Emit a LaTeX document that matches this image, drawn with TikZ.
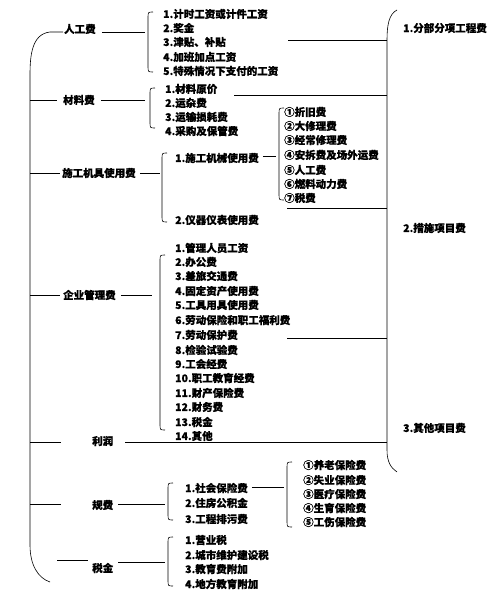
\documentclass[tikz,border=0pt]{standalone}
\usepackage{fontspec}
\setmainfont{Noto Sans CJK SC}[FakeBold=0.6]
\begin{document}
\begin{tikzpicture}[x=1pt,y=-1pt,
  lbl/.style={anchor=west,inner sep=0pt,font=\fontsize{10.5}{12}\selectfont\bfseries},
  ln/.style={line width=0.6pt,black},
  br/.style={line width=0.6pt,black}]
\useasboundingbox[fill=white] (0,0) rectangle (500,596);
% main labels
\node[lbl] (rgf) at (64,29) {人工费};
\node[lbl] (clf) at (63,100) {材料费};
\node[lbl] (sgjj) at (62,173) {施工机具使用费};
\node[lbl] (qygl) at (63,295) {企业管理费};
\node[lbl] (lr) at (92,441) {利润};
\node[lbl] (gf) at (92,505) {规费};
\node[lbl] (sj) at (92,568) {税金};
% right labels
\node[lbl] (r1) at (403,28) {1.分部分项工程费};
\node[lbl] (r2) at (403,228) {2.措施项目费};
\node[lbl] (r3) at (403,428) {3.其他项目费};
% 人工费 items
\node[lbl] (a1) at (163,14) {1.计时工资或计件工资};
\node[lbl] (a2) at (163,28) {2.奖金};
\node[lbl] (a3) at (163,42) {3.津贴、补贴};
\node[lbl] (a4) at (163,57) {4.加班加点工资};
\node[lbl] (a5) at (163,71) {5.特殊情况下支付的工资};
% 材料费 items
\node[lbl] (b1) at (165,89) {1.材料原价};
\node[lbl] (b2) at (165,103) {2.运杂费};
\node[lbl] (b3) at (165,117) {3.运输损耗费};
\node[lbl] (b4) at (165,131) {4.采购及保管费};
% 施工机具 items
\node[lbl] (c1) at (175,158) {1.施工机械使用费};
\node[lbl] (c2) at (175,220) {2.仪器仪表使用费};
\node[lbl] (d1) at (284,112) {①折旧费};
\node[lbl] (d2) at (284,126) {②大修理费};
\node[lbl] (d3) at (284,140) {③经常修理费};
\node[lbl] (d4) at (284,155) {④安拆费及场外运费};
\node[lbl] (d5) at (284,170) {⑤人工费};
\node[lbl] (d6) at (284,184) {⑥燃料动力费};
\node[lbl] (d7) at (284,198) {⑦税费};
% 企业管理费 items
\node[lbl] (e1) at (175,248) {1.管理人员工资};
\node[lbl] (e2) at (175,262) {2.办公费};
\node[lbl] (e3) at (175,276) {3.差旅交通费};
\node[lbl] (e4) at (175,291) {4.固定资产使用费};
\node[lbl] (e5) at (175,305) {5.工具用具使用费};
\node[lbl] (e6) at (175,320) {6.劳动保险和职工福利费};
\node[lbl] (e7) at (175,335) {7.劳动保护费};
\node[lbl] (e8) at (175,350) {8.检验试验费};
\node[lbl] (e9) at (175,364) {9.工会经费};
\node[lbl] (e10) at (175,378) {10.职工教育经费};
\node[lbl] (e11) at (175,393) {11.财产保险费};
\node[lbl] (e12) at (175,407) {12.财务费};
\node[lbl] (e13) at (175,422) {13.税金};
\node[lbl] (e14) at (175,436) {14.其他};
% 规费 items
\node[lbl] (f1) at (185,488) {1.社会保险费};
\node[lbl] (f2) at (185,503) {2.住房公积金};
\node[lbl] (f3) at (185,519) {3.工程排污费};
\node[lbl] (g1) at (303,465) {①养老保险费};
\node[lbl] (g2) at (303,480) {②失业保险费};
\node[lbl] (g3) at (303,494) {③医疗保险费};
\node[lbl] (g4) at (303,508) {④生育保险费};
\node[lbl] (g5) at (303,522) {⑤工伤保险费};
% 税金 items
\node[lbl] (h1) at (185,540) {1.营业税};
\node[lbl] (h2) at (185,555) {2.城市维护建设税};
\node[lbl] (h3) at (185,569) {3.教育费附加};
\node[lbl] (h4) at (185,584) {4.地方教育附加};

% big left bracket
\coordinate (LT) at (50,32);
\coordinate (LB) at (50,582);
\draw[br] (63,32) -- (LT) .. controls (32,34) and (30,55) .. (30,75) -- (30,545) .. controls (30,565) and (38,578) .. (LB);
% right bracket
\draw[br] (397,10) .. controls (389,14) and (387,25) .. (387,40) -- (387,450) .. controls (387,462) and (391,468) .. (397,472);

% sub brackets
\newcommand{\brak}[3]{\draw[br] (#1+5,#2) .. controls (#1,#2) .. (#1,#2+6) -- (#1,#3-6) .. controls (#1,#3) .. (#1+5,#3);}
\brak{148}{12}{72}
\brak{150}{88}{128}
\brak{162}{153}{222}
\brak{279}{108}{200}
\brak{160}{255}{430}
\brak{168}{483}{520}
\brak{287}{462}{527}
\brak{168}{537}{586}

% connectors from main bracket to labels
\draw[ln] (30,100) -- (clf.west -| 57,100);
\draw[ln] (30,173) -- (60,173);
\draw[ln] (30,295) -- (60,295);
\draw[ln] (30,442) -- (61,442);
\draw[ln] (30,504) -- (61,504);
\draw[ln] (57,560) -- (88,560);
% connectors from labels to sub brackets
\draw[ln] (rgf.east) ++(6,3) -- (145,32);
\draw[ln] (clf.east) ++(6,0) -- (145,100);
\draw[ln] (sgjj.east) ++(4,0) -- (160,173);
\draw[ln] (qygl.east) ++(5,0) -- (152,295);
\draw[ln] (lr.east) ++(12,1) -- (387,442);
\draw[ln] (gf.east) ++(5,-1) -- (165,504);
\draw[ln] (sj.east) ++(5,-6) -- (165,562);
\draw[ln] (c1.east) ++(4,-2) -- (276,156);
\draw[ln] (f1.east) ++(4,-1) -- (284,487);
% connectors to right bracket
\draw[ln] (288,40) -- (387,40);
\draw[ln] (b1.east) ++(17,6) -- (387,95);
\draw[ln] (287,208) -- (387,208);
\draw[ln] (287,338) -- (387,338);
\end{tikzpicture}
\end{document}
